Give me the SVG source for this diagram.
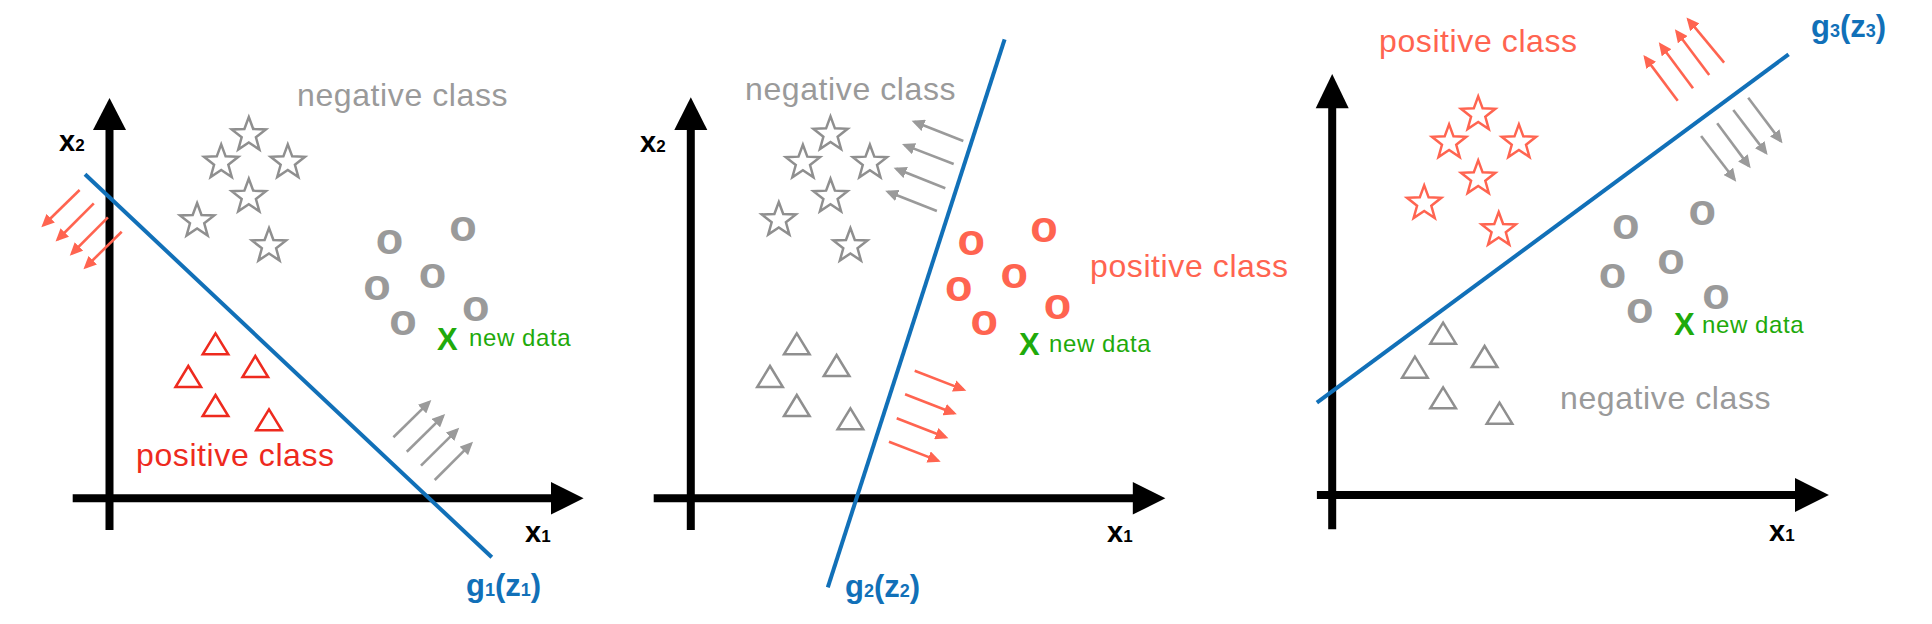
<svg xmlns="http://www.w3.org/2000/svg" xmlns:xlink="http://www.w3.org/1999/xlink" width="1932" height="624" viewBox="0 0 1932 624">
<style>
.axis{stroke:#000;stroke-width:8;fill:none}
.head{fill:#000}
.sep{stroke:#1170B8;stroke-width:4;fill:none}
.arS{stroke:#FF6450;stroke-width:2.6;fill:none;marker-end:url(#mS)}
.arG{stroke:#9A9A9A;stroke-width:2.6;fill:none;marker-end:url(#mG)}
.lbl{font-family:"Liberation Sans",Arial,sans-serif;font-weight:bold;fill:#000;font-size:29px}
.sub{font-size:17px}
.glbl{font-family:"Liberation Sans",Arial,sans-serif;font-weight:bold;fill:#1170B8;font-size:31px}
.gsub{font-size:18px}
.cls{font-family:"Liberation Sans",Arial,sans-serif;font-size:32px;letter-spacing:0.6px}
.gray{fill:#9A9A9A}
.red{fill:#EE2A1E}
.salmon{fill:#FF6450}
.o{font-family:"Liberation Sans",Arial,sans-serif;font-weight:bold;font-size:45px;text-anchor:middle}
.X{font-family:"Liberation Sans",Arial,sans-serif;font-weight:bold;font-size:31px;fill:#1FAA0B}
.nd{font-family:"Liberation Sans",Arial,sans-serif;font-size:24px;letter-spacing:0.6px;fill:#1FAA0B}
.starG{fill:none;stroke:#8F8F8F;stroke-width:2.5}
.starS{fill:none;stroke:#FF6450;stroke-width:2.5}
.triR{fill:none;stroke:#EE2A1E;stroke-width:2.5}
.triG{fill:none;stroke:#8F8F8F;stroke-width:2.5}
</style>
<defs>
<marker id="mS" markerUnits="userSpaceOnUse" markerWidth="14" markerHeight="12" refX="10" refY="6" orient="auto"><path d="M0,0 L13,6 L0,12 z" fill="#FF6450"/></marker>
<marker id="mG" markerUnits="userSpaceOnUse" markerWidth="14" markerHeight="12" refX="10" refY="6" orient="auto"><path d="M0,0 L13,6 L0,12 z" fill="#9A9A9A"/></marker>
<polygon id="star" points="0,-18 4.41,-6.07 17.12,-5.56 7.13,2.32 10.58,14.56 0,7.5 -10.58,14.56 -7.13,2.32 -17.12,-5.56 -4.41,-6.07"/>
<polygon id="tri" points="0,0 12.8,21 -12.8,21"/>
</defs>
<rect width="1932" height="624" fill="#fff"/>

<!-- Panel 1 -->
<g id="panel1">
  <g id="p1-axes">
    <line class="axis" x1="109.5" y1="530" x2="109.5" y2="125"/>
    <polygon class="head" points="109.5,98 126,130 93,130"/>
    <line class="axis" x1="72.7" y1="498.3" x2="555" y2="498.3"/>
    <polygon class="head" points="583.6,498.3 551,482 551,514.6"/>
    <text class="lbl" x="59" y="151">x<tspan class="sub">2</tspan></text>
    <text class="lbl" x="525" y="542">x<tspan class="sub">1</tspan></text>
  </g>
  <text id="p1-neg" class="cls gray" x="297" y="106">negative class</text>
  <g id="p1-stars" class="starG">
    <use xlink:href="#star" x="248.8" y="135"/>
    <use xlink:href="#star" x="221.2" y="162.4"/>
    <use xlink:href="#star" x="287.8" y="162.4"/>
    <use xlink:href="#star" x="248.8" y="196.7"/>
    <use xlink:href="#star" x="197.1" y="221"/>
    <use xlink:href="#star" x="269" y="246"/>
  </g>
  <g id="p1-circles" class="o gray">
    <text x="389.6" y="253.5">o</text>
    <text x="463.1" y="241.1">o</text>
    <text x="432.5" y="287.8">o</text>
    <text x="377" y="300.1">o</text>
    <text x="475.7" y="321.1">o</text>
    <text x="403" y="334.5">o</text>
  </g>
  <g id="p1-new">
    <text class="X" x="437" y="350">X</text>
    <text class="nd" x="469" y="346">new data</text>
  </g>
  <g id="p1-tris" class="triR">
    <use xlink:href="#tri" x="215.5" y="333.3"/>
    <use xlink:href="#tri" x="255.3" y="356"/>
    <use xlink:href="#tri" x="188.3" y="366"/>
    <use xlink:href="#tri" x="215.5" y="395"/>
    <use xlink:href="#tri" x="269" y="409.3"/>
  </g>
  <text id="p1-pos" class="cls red" x="136" y="466">positive class</text>
  <text id="p1-g" class="glbl" x="466" y="596">g<tspan class="gsub">1</tspan>(z<tspan class="gsub">1</tspan>)</text>
</g>

<!-- Panel 2 -->
<g id="panel2">
  <g id="p2-axes">
    <line class="axis" x1="690.8" y1="530" x2="690.8" y2="125"/>
    <polygon class="head" points="690.8,97.3 707.3,130 674.3,130"/>
    <line class="axis" x1="653.7" y1="498.3" x2="1137" y2="498.3"/>
    <polygon class="head" points="1165.4,498.3 1132.8,482 1132.8,514.6"/>
    <text class="lbl" x="640" y="152">x<tspan class="sub">2</tspan></text>
    <text class="lbl" x="1107" y="542">x<tspan class="sub">1</tspan></text>
  </g>
  <text id="p2-neg" class="cls gray" x="745" y="100">negative class</text>
  <g id="p2-stars" class="starG">
    <use xlink:href="#star" x="830.5" y="134.4"/>
    <use xlink:href="#star" x="802.9" y="162.7"/>
    <use xlink:href="#star" x="869.9" y="162.7"/>
    <use xlink:href="#star" x="830.5" y="196.7"/>
    <use xlink:href="#star" x="778.8" y="220"/>
    <use xlink:href="#star" x="850.4" y="246"/>
  </g>
  <g id="p2-circles" class="o salmon">
    <text x="971.3" y="254.5">o</text>
    <text x="1044" y="241.8">o</text>
    <text x="1014.2" y="287.8">o</text>
    <text x="958.7" y="301.1">o</text>
    <text x="1057.4" y="319.1">o</text>
    <text x="984.3" y="335.1">o</text>
  </g>
  <text id="p2-pos" class="cls salmon" x="1090" y="277.3">positive class</text>
  <g id="p2-new">
    <text class="X" x="1019" y="355">X</text>
    <text class="nd" x="1049" y="352">new data</text>
  </g>
  <g id="p2-tris" class="triG">
    <use xlink:href="#tri" x="796.8" y="333.3"/>
    <use xlink:href="#tri" x="836.6" y="355"/>
    <use xlink:href="#tri" x="770" y="366"/>
    <use xlink:href="#tri" x="796.8" y="395"/>
    <use xlink:href="#tri" x="850.4" y="408.3"/>
  </g>
  <text id="p2-g" class="glbl" x="845" y="597">g<tspan class="gsub">2</tspan>(z<tspan class="gsub">2</tspan>)</text>
</g>

<!-- Panel 3 -->
<g id="panel3">
  <g id="p3-axes">
    <line class="axis" x1="1332.2" y1="529.3" x2="1332.2" y2="104"/>
    <polygon class="head" points="1332.2,74 1348.7,108.3 1315.7,108.3"/>
    <line class="axis" x1="1316.9" y1="495" x2="1799" y2="495"/>
    <polygon class="head" points="1828.9,495 1795,478 1795,512"/>
    <text class="lbl" x="1769" y="541">x<tspan class="sub">1</tspan></text>
  </g>
  <text id="p3-pos" class="cls salmon" x="1379" y="52.3">positive class</text>
  <g id="p3-stars" class="starS">
    <use xlink:href="#star" x="1478.2" y="114.4"/>
    <use xlink:href="#star" x="1449.1" y="142.4"/>
    <use xlink:href="#star" x="1518.9" y="142.4"/>
    <use xlink:href="#star" x="1478.2" y="178.4"/>
    <use xlink:href="#star" x="1424.2" y="203.4"/>
    <use xlink:href="#star" x="1498.7" y="230"/>
  </g>
  <g id="p3-circles" class="o gray">
    <text x="1625.7" y="238.5">o</text>
    <text x="1702.3" y="225.1">o</text>
    <text x="1670.9" y="273.5">o</text>
    <text x="1612.4" y="287.8">o</text>
    <text x="1716" y="308.5">o</text>
    <text x="1639.8" y="322.8">o</text>
  </g>
  <g id="p3-new">
    <text class="X" x="1674" y="335">X</text>
    <text class="nd" x="1702" y="333">new data</text>
  </g>
  <g id="p3-tris" class="triG">
    <use xlink:href="#tri" x="1443.1" y="322.7"/>
    <use xlink:href="#tri" x="1484.6" y="346"/>
    <use xlink:href="#tri" x="1414.9" y="356.7"/>
    <use xlink:href="#tri" x="1443.1" y="387.3"/>
    <use xlink:href="#tri" x="1499.5" y="402.7"/>
  </g>
  <text id="p3-neg" class="cls gray" x="1560" y="409">negative class</text>
  <text id="p3-g" class="glbl" x="1811" y="37">g<tspan class="gsub">3</tspan>(z<tspan class="gsub">3</tspan>)</text>
</g>

<!-- Connectors: decision boundaries and direction arrows -->
<g id="connectors">
  <line class="sep" x1="85" y1="174.3" x2="491.8" y2="557.3"/>
  <line class="sep" x1="1004.6" y1="39.3" x2="827.8" y2="587.3"/>
  <line class="sep" x1="1316.9" y1="402.7" x2="1788.6" y2="54.3"/>

  <line class="arS" x1="79.6" y1="190" x2="43.5" y2="225.2"/>
  <line class="arS" x1="93.8" y1="203.3" x2="57.7" y2="239.5"/>
  <line class="arS" x1="107.9" y1="217.3" x2="71.9" y2="253.5"/>
  <line class="arS" x1="121.7" y1="231.7" x2="85.6" y2="267.2"/>

  <line class="arG" x1="393.4" y1="437.3" x2="429.2" y2="402.1"/>
  <line class="arG" x1="406.8" y1="451.7" x2="443" y2="416.1"/>
  <line class="arG" x1="421" y1="465.7" x2="457.1" y2="429.8"/>
  <line class="arG" x1="434.7" y1="480" x2="470.9" y2="443.8"/>

  <line class="arG" x1="963.3" y1="141" x2="914.4" y2="121.8"/>
  <line class="arG" x1="953.7" y1="164" x2="904.8" y2="145.1"/>
  <line class="arG" x1="945.3" y1="188.3" x2="896.4" y2="168.8"/>
  <line class="arG" x1="936.9" y1="211" x2="888" y2="191.8"/>

  <line class="arS" x1="914.7" y1="370.7" x2="963.5" y2="389.6"/>
  <line class="arS" x1="905.1" y1="394.3" x2="954" y2="413.2"/>
  <line class="arS" x1="896.7" y1="418.3" x2="945.6" y2="437.2"/>
  <line class="arS" x1="889" y1="441.7" x2="937.9" y2="460.6"/>

  <line class="arS" x1="1677.7" y1="100.7" x2="1645.2" y2="57.4"/>
  <line class="arS" x1="1693" y1="88.3" x2="1660.6" y2="44.7"/>
  <line class="arS" x1="1709.2" y1="75" x2="1676.7" y2="31.7"/>
  <line class="arS" x1="1724.1" y1="62.7" x2="1688.4" y2="19.7"/>

  <line class="arG" x1="1701.1" y1="136" x2="1734.4" y2="179.3"/>
  <line class="arG" x1="1717.2" y1="123.3" x2="1748.9" y2="165.9"/>
  <line class="arG" x1="1733.3" y1="110" x2="1765.8" y2="152.6"/>
  <line class="arG" x1="1748.2" y1="97.7" x2="1780.7" y2="140.9"/>
</g>
</svg>
